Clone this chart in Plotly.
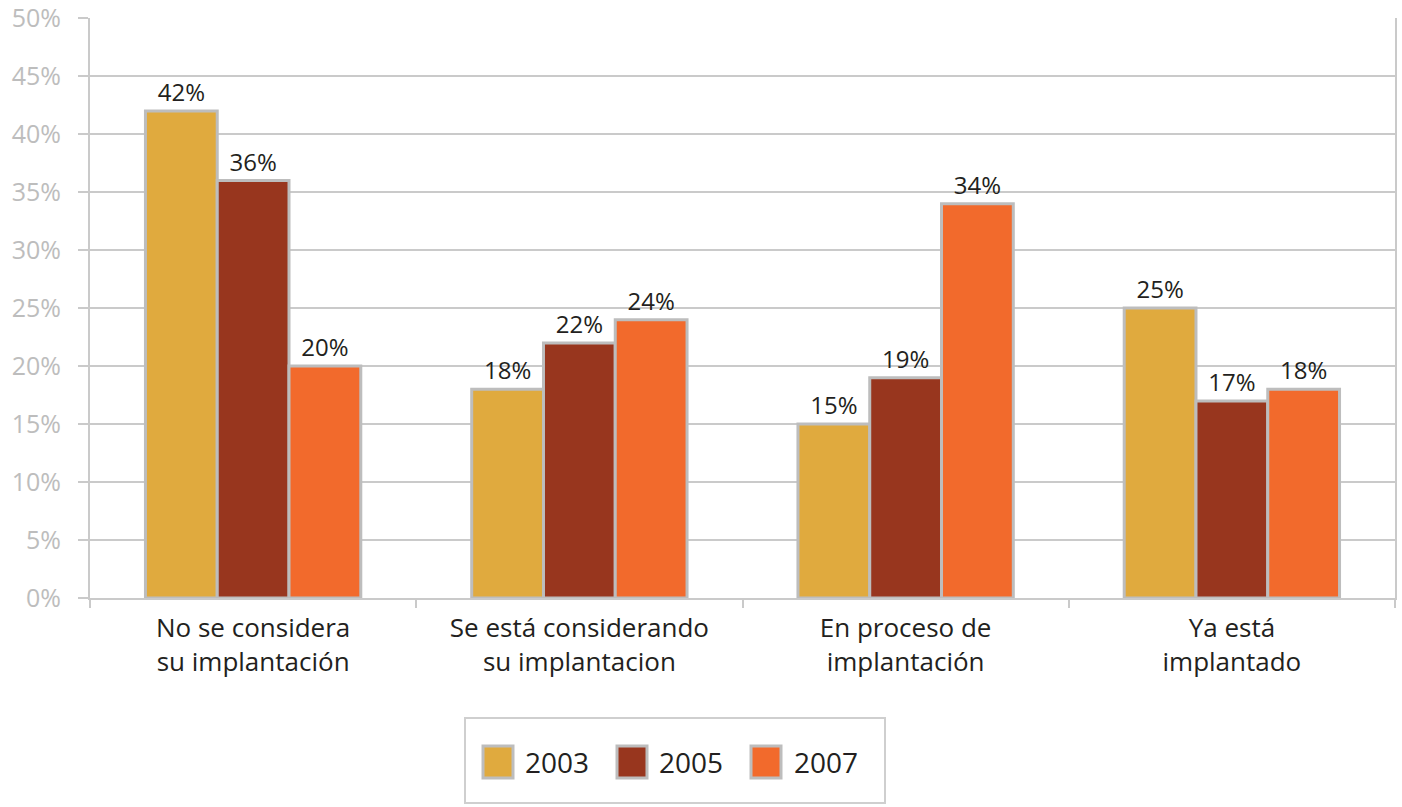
import plotly.graph_objects as go

# Survey results by implementation stage
categories = [
    "No se considera<br>su implantación",
    "Se está considerando<br>su implantacion",
    "En proceso de<br>implantación",
    "Ya está<br>implantado",
]
years = ["2003", "2005", "2007"]
values_2003 = [42, 18, 15, 25]
values_2005 = [36, 22, 19, 17]
values_2007 = [20, 24, 34, 18]
series = [values_2003, values_2005, values_2007]
colors = ["#E0AA3E", "#98361E", "#F26A2C"]
y_ticks = [0, 5, 10, 15, 20, 25, 30, 35, 40, 45, 50]
y_tick_labels = [f"{v}%" for v in y_ticks]

W, H = 1402, 807
ML, MR, MT, MB = 90, 7, 18, 209
PW, PH = W - ML - MR, H - MT - MB
FONT = "Open Sans"
GRID = "#CACACA"
EDGE = "#BDBDBD"


def px(x):
    return (x - ML) / PW


def py(y):
    return (H - MB - y) / PH


fig = go.Figure()
for name, vals, col in zip(years, series, colors):
    fig.add_trace(go.Bar(
        name=name,
        x=categories,
        y=vals,
        marker=dict(color=col, line=dict(color=EDGE, width=3)),
        text=[f"{v}%" for v in vals],
        textposition="outside",
        textfont=dict(family=FONT, size=24, color="#231F20"),
        cliponaxis=False,
        showlegend=False,
        hoverinfo="skip",
    ))

# Legend drawn as a framed row of swatches below the plot
shapes = [dict(
    type="rect", xref="paper", yref="paper",
    x0=px(465), x1=px(885), y0=py(803), y1=py(718),
    line=dict(color="#CFCFCF", width=2), fillcolor="rgba(0,0,0,0)", layer="above",
)]
annotations = []
swatch_x = [483, 617, 751]
text_x = [523, 657, 792]
for sx, tx, name, col in zip(swatch_x, text_x, years, colors):
    shapes.append(dict(
        type="rect", xref="paper", yref="paper",
        x0=px(sx), x1=px(sx + 30), y0=py(778), y1=py(746),
        line=dict(color=EDGE, width=3), fillcolor=col, layer="above",
    ))
    annotations.append(dict(
        text=name, xref="paper", yref="paper",
        x=px(tx), y=py(762), xanchor="left", yanchor="middle",
        showarrow=False, font=dict(family=FONT, size=28, color="#231F20"),
    ))

fig.update_layout(
    width=W, height=H,
    margin=dict(l=ML, r=MR, t=MT, b=MB, autoexpand=False),
    paper_bgcolor="white", plot_bgcolor="white",
    barmode="group", bargap=0.34, bargroupgap=0,
    shapes=shapes, annotations=annotations,
    xaxis=dict(
        showline=True, linecolor=GRID, linewidth=2,
        ticks="outside", tickson="boundaries", ticklen=8,
        tickcolor=GRID, tickwidth=2, ticklabelstandoff=6,
        tickfont=dict(family=FONT, size=26, color="#231F20"),
        showgrid=False, fixedrange=True, automargin=False,
    ),
    yaxis=dict(
        range=[0, 50.02], tickmode="array",
        tickvals=y_ticks, ticktext=y_tick_labels,
        showline=True, linecolor=GRID, linewidth=2, mirror=True,
        ticks="outside", ticklen=10, tickcolor=GRID, tickwidth=2,
        ticklabelstandoff=12, ticklabeloverflow="allow",
        showgrid=True, gridcolor=GRID, gridwidth=2, zeroline=False,
        tickfont=dict(family=FONT, size=25, color="#BDBDBD"),
        fixedrange=True, automargin=False,
    ),
)

fig.write_html("out.html")
